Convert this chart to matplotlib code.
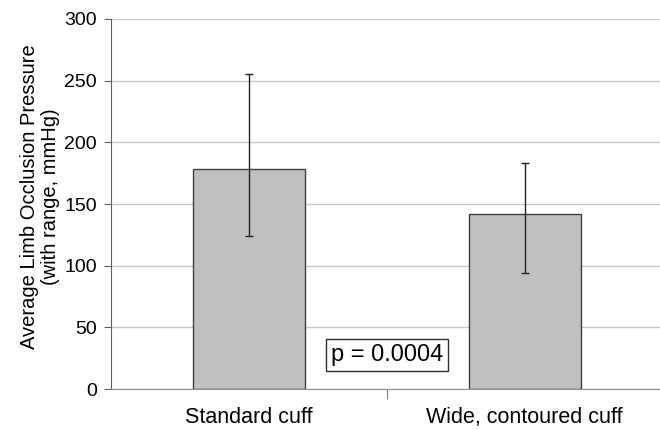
import matplotlib.pyplot as plt
import numpy as np

plt.rcParams['font.family'] = ['Liberation Sans', 'DejaVu Sans']

categories = ['Standard cuff', 'Wide, contoured cuff']
means = np.array([178, 142])
range_min = np.array([124, 94])
range_max = np.array([255, 183])
p_text = 'p = 0.0004'

fig = plt.figure(figsize=(6.6, 4.3), dpi=100)
ax = fig.add_axes([0.168, 0.095, 0.832, 0.861])

x = np.arange(len(categories))
yerr = [means - range_min, range_max - means]
ax.bar(x, means, width=0.405, color='#c0c0c0', edgecolor='#404040', linewidth=1.0, zorder=2)
ax.errorbar(x, means, yerr=yerr, fmt='none', ecolor='#202020', elinewidth=1.0,
            capsize=3, capthick=1.0, zorder=3)

ax.set_ylim(0, 300)
ax.set_yticks(np.arange(0, 301, 50))
ax.set_xlim(-0.5, 1.49)
ax.set_xticks([0.5], minor=True)
ax.set_xticks(x)
ax.set_xticklabels(categories, fontsize=15.5)
ax.tick_params(axis='x', which='major', length=0, pad=13)
ax.tick_params(axis='x', which='minor', length=7, color='#606060')
ax.tick_params(axis='y', labelsize=14, length=5, color='#606060', pad=5)

ax.yaxis.grid(True, color='#c8c8c8', linewidth=1.0, zorder=0)
ax.set_axisbelow(True)
for s in ['top', 'right']:
    ax.spines[s].set_visible(False)
ax.spines['left'].set_color('#606060')
ax.spines['bottom'].set_color('#909090')

ax.set_ylabel('Average Limb Occlusion Pressure\n(with range, mmHg)', fontsize=14.5,
              linespacing=1.15)
ax.yaxis.set_label_coords(-0.093, 0.52)

ax.text(0.5, 27.5, p_text, fontsize=17, ha='center', va='center', zorder=4,
        bbox=dict(boxstyle='square,pad=0.2', facecolor='white', edgecolor='#303030', linewidth=1.0))

fig.savefig('out.png', dpi=100)
